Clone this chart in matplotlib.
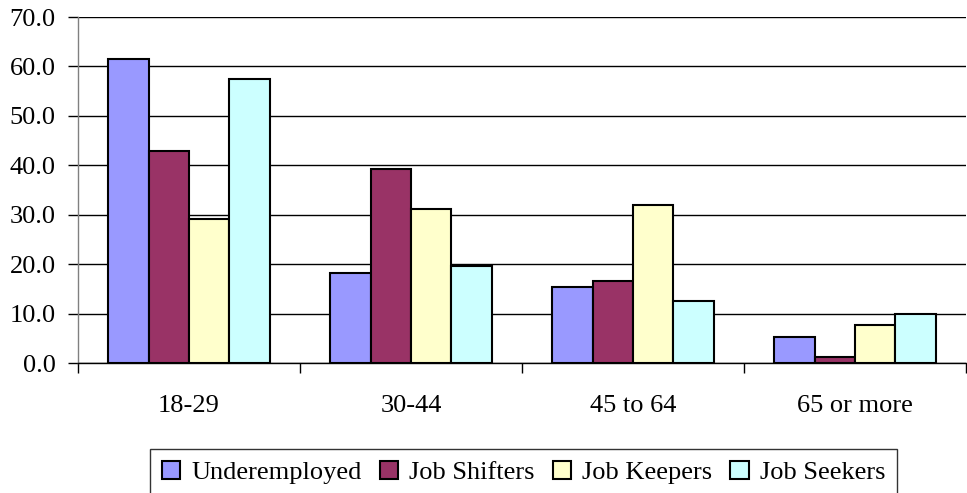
import numpy as np
import matplotlib
matplotlib.use("Agg")
import matplotlib.pyplot as plt
from matplotlib.ticker import FixedLocator

plt.rcParams['font.family'] = ['Liberation Serif', 'DejaVu Serif']

categories = ["18-29", "30-44", "45 to 64", "65 or more"]
underemployed = [61.5, 18.2, 15.3, 5.2]
job_shifters = [42.9, 39.2, 16.6, 1.2]
job_keepers = [29.1, 31.1, 31.9, 7.7]
job_seekers = [57.4, 19.7, 12.5, 10.0]

series = [
    ("Underemployed", underemployed, "#9999FF"),
    ("Job Shifters", job_shifters, "#993366"),
    ("Job Keepers", job_keepers, "#FFFFCC"),
    ("Job Seekers", job_seekers, "#CCFFFF"),
]

W, H = 967, 493
fig = plt.figure(figsize=(W / 100, H / 100), dpi=100)
ax = fig.add_axes([78 / W, 1 - 363 / H, 888 / W, 346 / H])

n = len(series)
bar_w = 1.0 / (n + 1.5)
x = np.arange(len(categories))
handles = []
for i, (name, vals, col) in enumerate(series):
    offs = (i - (n - 1) / 2) * bar_w
    h = ax.bar(x + offs, vals, width=bar_w, color=col, edgecolor="black",
               linewidth=1.5, label=name, zorder=3)
    handles.append(h)

ax.set_xlim(-0.5, len(categories) - 0.5)
ax.set_ylim(0, 70)
yt = np.arange(0, 71, 10)
ax.set_yticks(yt)
ax.set_yticklabels([f"{v:.1f}" for v in yt])
ax.yaxis.grid(True, color="black", linewidth=1.0, zorder=0)
ax.set_axisbelow(True)

# category labels centred, tick marks on group boundaries
ax.set_xticks(x)
ax.set_xticklabels(categories)
ax.tick_params(axis="x", which="major", length=0, pad=23, labelsize=19)
ax.xaxis.set_minor_locator(FixedLocator(np.arange(-0.5, len(categories), 1.0)))
ax.tick_params(axis="x", which="minor", length=7, width=1, direction="out")
ax.tick_params(axis="y", length=7, width=1, direction="out", labelsize=19, pad=9)

for side in ("top", "right"):
    ax.spines[side].set_visible(False)
ax.spines["left"].set_linewidth(1)
ax.spines["left"].set_color("#808080")
ax.spines["bottom"].set_linewidth(1)

leg = fig.legend(handles=handles, loc="upper center", ncol=4,
                 bbox_to_anchor=(523.5 / W, 1 - 449 / H), frameon=True,
                 fancybox=False, edgecolor="black", fontsize=19,
                 handlelength=0.7, handleheight=0.7, handletextpad=0.4,
                 columnspacing=0.7, borderpad=0.45, borderaxespad=0)
for t in leg.get_texts():
    t.set_fontfamily(["Liberation Serif", "DejaVu Serif"])
leg.get_frame().set_linewidth(1)

fig.savefig("out.png", dpi=100)
